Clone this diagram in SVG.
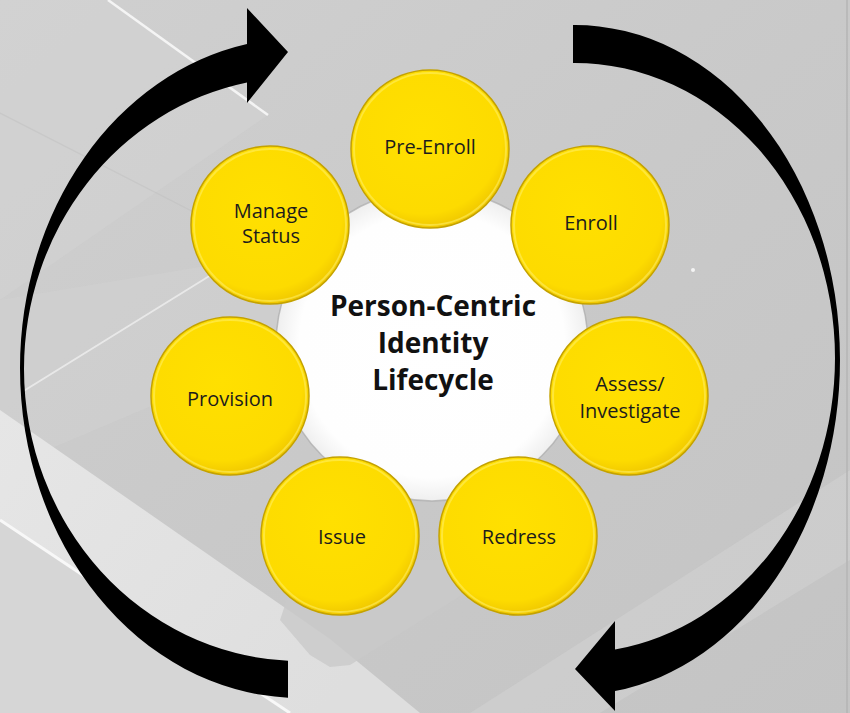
<svg xmlns="http://www.w3.org/2000/svg" width="850" height="713" viewBox="0 0 850 713">
  <defs>
    <linearGradient id="bg" x1="0" y1="0" x2="1" y2="1">
      <stop offset="0" stop-color="#d0d0d0"/>
      <stop offset="0.5" stop-color="#c9c9c9"/>
      <stop offset="1" stop-color="#c4c4c4"/>
    </linearGradient>
    <radialGradient id="yg" cx="0.45" cy="0.4" r="0.6">
      <stop offset="0" stop-color="#ffe000"/>
      <stop offset="0.85" stop-color="#fddb00"/>
      <stop offset="1" stop-color="#f0c800"/>
    </radialGradient>
    <radialGradient id="wg" cx="0.5" cy="0.5" r="0.5">
      <stop offset="0" stop-color="#ffffff"/>
      <stop offset="0.85" stop-color="#fefefe"/>
      <stop offset="1" stop-color="#efefef"/>
    </radialGradient>
    <linearGradient id="band" x1="0" y1="0" x2="1" y2="0.6">
      <stop offset="0" stop-color="#e6e6e6"/>
      <stop offset="1" stop-color="#dedede"/>
    </linearGradient>
  </defs>
  <style>
    .node circle.b { fill: url(#yg); stroke: #c4a200; stroke-width: 1.5; }
    .node circle.h { fill: none; stroke: #fff06a; stroke-width: 2; opacity: 0.55; }
    .lbl { font-family: "Open Sans", "Liberation Sans", sans-serif; font-size: 20px; fill: #1c1c1c; text-anchor: middle; }
    .title { font-family: "Open Sans", "Liberation Sans", sans-serif; font-size: 28px; font-weight: bold; fill: #111; text-anchor: middle; }
    .arrow { fill: #000; }
  </style>

  <!-- background -->
  <g id="background">
    <rect x="0" y="0" width="850" height="713" fill="url(#bg)"/>
    <polygon points="0,0 108,0 268,115 0,300" fill="#d4d4d4" opacity="0.5"/>
    <polygon points="0,300 230,262 330,330 0,470" fill="#d2d2d2" opacity="0.45"/>
    <polygon points="0,410 330,639 420,713 0,713" fill="url(#band)"/>
    <polygon points="0,520 290,713 0,713" fill="#d6d6d6"/>
    <polygon points="300,560 460,560 470,590 350,665 330,667 310,655 280,620" fill="#c9c9c9" opacity="0.8"/>
    <polygon points="470,713 850,470 850,560 600,713" fill="#d4d4d4" opacity="0.5"/>
    <line x1="0" y1="520" x2="290" y2="713" stroke="#f8f8f8" stroke-width="3"/>
    <line x1="108" y1="0" x2="268" y2="115" stroke="#f4f4f4" stroke-width="2.5"/>
    <line x1="22" y1="392" x2="232" y2="262" stroke="#efefef" stroke-width="2" opacity="0.8"/>
    <line x1="0" y1="113" x2="268" y2="250" stroke="#c0c0c0" stroke-width="1.2" opacity="0.5"/>
    <line x1="847" y1="0" x2="847" y2="713" stroke="#b4b4b4" stroke-width="1.5"/>
    <circle cx="693" cy="270" r="2" fill="#f4f4f4"/>
  </g>

  <!-- connectors: cycle arrows -->
  <g id="connectors">
    <path class="arrow" d="M 288 697.7 A 280 330 0 0 1 20 368 A 280 330 0 0 1 247 44 L 247 8 L 288 52 L 247 103 L 247 82.4 A 276 292 0 0 0 24 369 A 276 292 0 0 0 288 660.7 Z"/>
    <path class="arrow" d="M 573 25 A 265 335 0 0 1 840 360 A 265 335 0 0 1 615 691 L 615 711 L 575 669 L 615 621 L 615 649.5 A 260 295 0 0 0 835 358 A 260 295 0 0 0 573 63 Z"/>
  </g>

  <!-- center -->
  <g id="center">
    <circle cx="432" cy="345" r="156" fill="url(#wg)" stroke="#a9a9a9" stroke-width="1.5" stroke-opacity="0.7"/>
    <text class="title" x="433" y="316">Person-Centric</text>
    <text class="title" x="433" y="353">Identity</text>
    <text class="title" x="433" y="390">Lifecycle</text>
  </g>

  <g id="pre-enroll" class="node">
    <circle class="b" cx="430" cy="149" r="79"/>
    <circle class="h" cx="430" cy="149" r="76"/>
    <text class="lbl" x="430" y="154">Pre-Enroll</text>
  </g>
  <g id="enroll" class="node">
    <circle class="b" cx="590" cy="225" r="79"/>
    <circle class="h" cx="590" cy="225" r="76"/>
    <text class="lbl" x="591" y="230">Enroll</text>
  </g>
  <g id="assess" class="node">
    <circle class="b" cx="629" cy="396" r="79"/>
    <circle class="h" cx="629" cy="396" r="76"/>
    <text class="lbl" x="630" y="391">Assess/</text>
    <text class="lbl" x="630" y="418">Investigate</text>
  </g>
  <g id="redress" class="node">
    <circle class="b" cx="518" cy="536" r="79"/>
    <circle class="h" cx="518" cy="536" r="76"/>
    <text class="lbl" x="519" y="544">Redress</text>
  </g>
  <g id="issue" class="node">
    <circle class="b" cx="340" cy="536" r="79"/>
    <circle class="h" cx="340" cy="536" r="76"/>
    <text class="lbl" x="342" y="544">Issue</text>
  </g>
  <g id="provision" class="node">
    <circle class="b" cx="230" cy="396" r="79"/>
    <circle class="h" cx="230" cy="396" r="76"/>
    <text class="lbl" x="230" y="406">Provision</text>
  </g>
  <g id="manage-status" class="node">
    <circle class="b" cx="270" cy="225" r="79"/>
    <circle class="h" cx="270" cy="225" r="76"/>
    <text class="lbl" x="271" y="218">Manage</text>
    <text class="lbl" x="271" y="243">Status</text>
  </g>
</svg>
